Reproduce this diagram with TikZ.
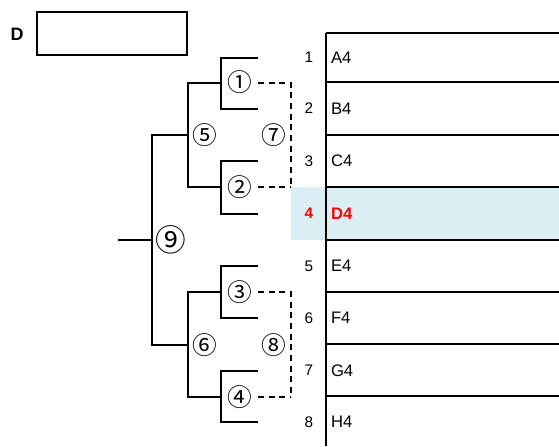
\documentclass[tikz,border=0pt]{standalone}
\usepackage{fontspec}
\setmainfont{Liberation Sans}
\newfontfamily\circfont{Noto Sans CJK JP}
\usepackage{tikz}
\definecolor{rowblue}{HTML}{DAEEF3}
\definecolor{pickred}{HTML}{FF0000}

\begin{document}
\begin{tikzpicture}[x=0.75pt,y=-0.75pt,line width=1.5pt,
    seed/.style={font=\fontsize{11.5}{13}\selectfont,inner sep=0pt},
    team/.style={anchor=west,font=\fontsize{12.5}{14}\selectfont,inner sep=0pt},
    game/.style={font=\circfont\fontsize{18.5}{20}\selectfont,inner sep=0pt},
    later/.style={dash pattern=on 4.5pt off 3.5pt}]
    \useasboundingbox (0,0) rectangle (559,446);
    % Draw the title box
    \node[font=\bfseries\fontsize{13.5}{15}\selectfont] (block) at (17,34) {D};
    \node[draw,minimum width=113pt,minimum height=32pt,anchor=west] (blockname) at (35.5,33.5) {};
    % Draw the table of entries
    \fill[rowblue] (291,187) rectangle (559,240);
    \foreach \y in {33,82,135,187,240,292,344,396} {
        \draw (326,\y) -- (559,\y);
    }
    \draw (326,33) -- (326,446);
    \foreach \n/\t/\y in {1/A4/57.5,2/B4/108.5,3/C4/161,5/E4/266,6/F4/318,7/G4/370.5,8/H4/422} {
        \node[seed] (s\n) at (309,\y) {\n};
        \node[team] (t\n) at (330,\y) {\t};
        \coordinate (l\n) at (258,\y);
    }
    \node[seed,text=pickred,font=\bfseries\fontsize{11.5}{13}\selectfont] (s4) at (309,213.5) {4};
    \node[team,text=pickred,font=\bfseries\fontsize{12.5}{14}\selectfont] (t4) at (330,213.5) {D4};
    \coordinate (l4) at (258,213.5);
    % Draw the first round
    \foreach \m/\y in {1/82.5,2/187,3/292,4/397} {
        \coordinate (j\m) at (221,\y);
        \coordinate (e\m) at (258,\y);
        \node[game] (g\m) at (239.5,\y) {\ifcase\m\or ①\or ②\or ③\or ④\fi};
    }
    \draw (l1) -| (j1) |- (l2);
    \draw (l3) -| (j2) |- (l4);
    \draw (l5) -| (j3) |- (l6);
    \draw (l7) -| (j4) |- (l8);
    % Draw the second round and the final
    \coordinate (j5) at (188,135);
    \coordinate (j6) at (188,345);
    \coordinate (j9) at (152,240);
    \coordinate (root) at (118,240);
    \node[game] (g5) at (204.5,135) {⑤};
    \node[game] (g6) at (204.5,345) {⑥};
    \node[game,font=\circfont\fontsize{23}{25}\selectfont] (g9) at (170.5,240) {⑨};
    \draw (j1) -| (j5) |- (j2);
    \draw (j3) -| (j6) |- (j4);
    \draw (j5) -| (j9) |- (j6);
    \draw (root) -- (j9);
    % Draw the placement games
    \coordinate (k7) at (291,135);
    \coordinate (k8) at (291,345);
    \node[game] (g7) at (274,135) {⑦};
    \node[game] (g8) at (274,345) {⑧};
    \draw[later] (e1) -- (k7 |- e1) -- (k7) -- (k7 |- e2);
    \draw[later] (e2) -- (k7 |- e2);
    \draw[later] (e3) -- (k8 |- e3) -- (k8) -- (k8 |- e4);
    \draw[later] (e4) -- (k8 |- e4);
\end{tikzpicture}
\end{document}
